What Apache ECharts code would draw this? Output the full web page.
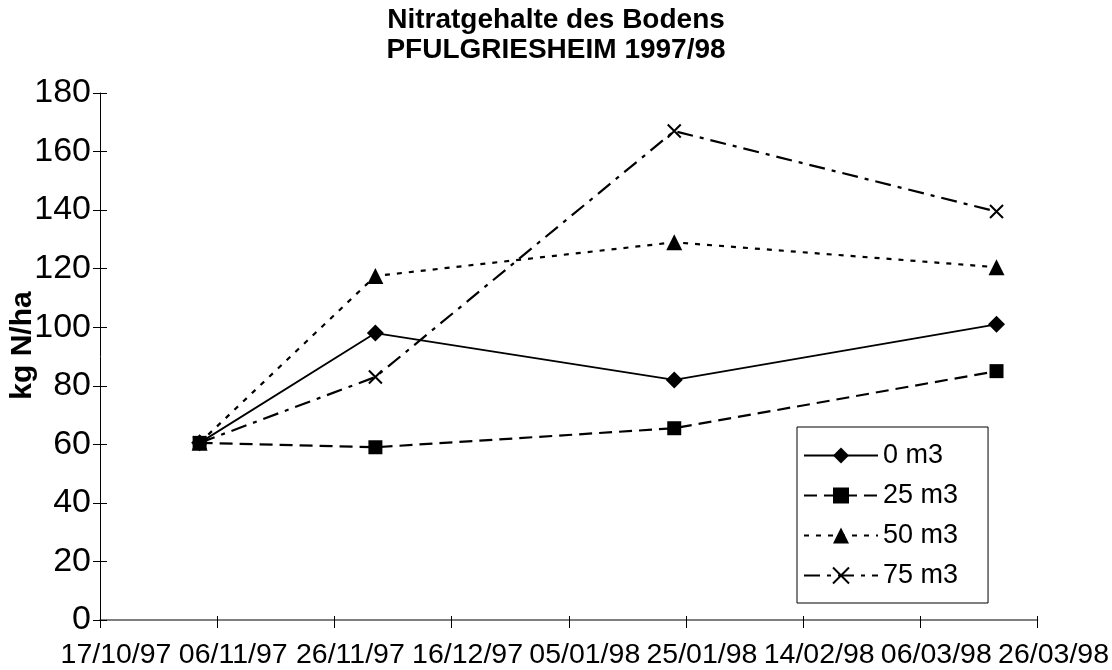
<!DOCTYPE html>
<html>
<head>
<meta charset="utf-8">
<script src="https://cdn.jsdelivr.net/npm/echarts@6/dist/echarts.min.js"></script>
<style>
  html, body { margin: 0; padding: 0; background: #fff; }
  #chart { width: 1112px; height: 670px; }
</style>
</head>
<body>
<div id="chart"></div>
<script>
// Messtermine und Werte (kg N/ha)
var startDate = '1997-10-17'
var tickLabels = ['17/10/97', '06/11/97', '26/11/97', '16/12/97', '05/01/98', '25/01/98', '14/02/98', '06/03/98', '26/03/98']
var sampleDates = ['1997-11-03', '1997-12-03', '1998-01-23', '1998-03-19']
var seriesNames = ['0 m3', '25 m3', '50 m3', '75 m3']
var n0 = [60.5, 98, 82, 101]
var n25 = [60.5, 59, 65.5, 85]
var n50 = [60.5, 117.5, 129, 120.5]
var n75 = [60.5, 83, 167, 139.5]

var font = 'Liberation Sans, Arial, sans-serif'

// Tage seit dem 17/10/97
function dayOffset (s) {
  return (Date.parse(s) - Date.parse(startDate)) / 86400000
}
function toPoints (vals) {
  return vals.map(function (v, i) { return [dayOffset(sampleDates[i]), v] })
}

var crossPath = 'path://M0,0L10,10M10,0L0,10'

var styles = [
  { symbol: 'diamond', size: 17, type: 'solid', width: 1.8 },
  { symbol: 'rect', size: 14, type: [13, 7], width: 2.2 },
  { symbol: 'triangle', size: 16, type: [5, 7], width: 2.2 },
  { symbol: crossPath, size: 13, type: [16, 7, 4, 7], width: 2.2 }
]
var allData = [n0, n25, n50, n75]

var series = allData.map(function (vals, i) {
  var st = styles[i]
  return {
    name: seriesNames[i],
    type: 'line',
    data: toPoints(vals),
    symbol: st.symbol,
    symbolSize: st.size,
    showAllSymbol: true,
    lineStyle: { color: '#000', width: st.width, type: st.type },
    itemStyle: { color: '#000', borderColor: '#000', borderWidth: i === 3 ? 2 : 0 },
    emphasis: { disabled: true }
  }
})

var myChart = echarts.init(document.getElementById('chart'), null, { renderer: 'canvas' })
myChart.setOption({
  backgroundColor: '#fff',
  animation: false,
  title: {
    text: 'Nitratgehalte des Bodens\nPFULGRIESHEIM 1997/98',
    left: 'center',
    top: 0,
    textStyle: { fontFamily: font, fontSize: 28, fontWeight: 'bold', color: '#000', lineHeight: 30 }
  },
  legend: {
    orient: 'vertical',
    left: 797,
    top: 427,
    padding: [14, 30, 13, 6],
    itemWidth: 74,
    itemHeight: 20,
    itemGap: 11,
    borderColor: '#000',
    borderWidth: 1,
    selectedMode: false,
    textStyle: { fontFamily: font, fontSize: 27, color: '#000', lineHeight: 29 },
    data: seriesNames
  },
  grid: { left: 92, right: 70, top: 93, bottom: 46 },
  xAxis: [{
    type: 'value',
    min: 0,
    max: 160,
    interval: 20,
    axisLine: { show: true, lineStyle: { color: '#555', width: 1.5 } },
    axisTick: { show: true, length: 8, lineStyle: { color: '#000', width: 1 } },
    splitLine: { show: false },
    axisLabel: {
      margin: 21,
      fontFamily: font,
      fontSize: 28.5,
      color: '#000',
      padding: [0, 0, 0, 32],
      formatter: function (v) { return tickLabels[Math.round(v / 20)] }
    }
  }, {
    // nur für die Striche oberhalb der Achse
    type: 'value',
    position: 'bottom',
    min: 0,
    max: 160,
    interval: 20,
    axisLine: { show: false },
    axisTick: { show: true, inside: true, length: 4, lineStyle: { color: '#000' } },
    axisLabel: { show: false },
    splitLine: { show: false }
  }],
  yAxis: [{
    type: 'value',
    min: 0,
    max: 180,
    interval: 20,
    name: 'kg N/ha',
    nameLocation: 'middle',
    nameGap: 62,
    nameMoveOverlap: false,
    nameTextStyle: { fontFamily: font, fontSize: 30, fontWeight: 'bold', color: '#000', padding: [0, 0, 0, 22] },
    axisLine: { show: true, lineStyle: { color: '#000', width: 1 } },
    axisTick: { show: true, length: 7, lineStyle: { color: '#000' } },
    splitLine: { show: false },
    axisLabel: { margin: 9, fontFamily: font, fontSize: 34, color: '#000' }
  }, {
    // nach innen zeigende Striche
    type: 'value',
    position: 'left',
    min: 0,
    max: 180,
    interval: 20,
    axisLine: { show: false },
    axisTick: { show: true, inside: true, length: 7, lineStyle: { color: '#000' } },
    axisLabel: { show: false },
    splitLine: { show: false }
  }],
  series: series
})
</script>
</body>
</html>
